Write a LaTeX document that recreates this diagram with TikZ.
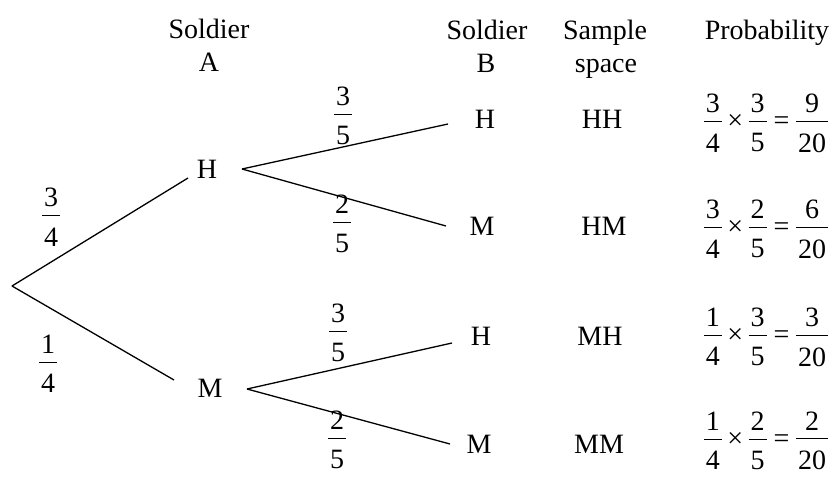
\documentclass[tikz,border=0pt]{standalone}
\usepackage{fontspec}
\setmainfont{Liberation Serif}
\newfontfamily\timesfont{Liberation Serif}
\newcommand\fr[2]{\vbox{\halign{\hfil\kern2pt##\kern2pt\hfil\cr #1\cr\noalign{\kern8pt\hrule height0.9pt\kern12pt}#2\cr}}}
\newcommand\prob[6]{$\vcenter{\fr{#1}{#2}}\mathbin{\mbox{×}}\vcenter{\fr{#3}{#4}}\mathrel{\mbox{=}}\vcenter{\fr{#5}{#6}}$}
\tikzset{
  txt/.style={inner sep=0pt, font=\timesfont\fontsize{28}{33}\selectfont},
  lbl/.style={txt, anchor=base},
  branch/.style={line width=1.3pt}
}
\begin{document}
\begin{tikzpicture}[x=1pt,y=-1pt]
\useasboundingbox (0,0) rectangle (836,477);
% headers
\node[lbl] (hdrA1) at (209,38) {Soldier};
\node[lbl] (hdrA2) at (209,71) {A};
\node[lbl] (hdrB1) at (487,39) {Soldier};
\node[lbl] (hdrB2) at (486,72) {B};
\node[lbl] (hdrS1) at (605,39) {Sample};
\node[lbl] (hdrS2) at (606,72) {space};
\node[lbl] (hdrP) at (767,39) {Probability};
% tree outcomes
\node[lbl] (hA) at (207,178) {H};
\node[lbl] (mA) at (210,397) {M};
\node[lbl] (hH) at (485,128) {H};
\node[lbl] (hM) at (482,235) {M};
\node[lbl] (mH) at (481,345) {H};
\node[lbl] (mM) at (479,453) {M};
% sample space
\node[lbl] (sHH) at (602,128) {HH};
\node[lbl] (sHM) at (604,235) {HM};
\node[lbl] (sMH) at (600,345) {MH};
\node[lbl] (sMM) at (599,453) {MM};
% branch points
\coordinate (root) at (12,286);
\coordinate (hAin) at (188,178);
\coordinate (hAout) at (242,169);
\coordinate (mAin) at (174,380);
\coordinate (mAout) at (247,389);
\coordinate (hHin) at (448,124);
\coordinate (hMin) at (446,226);
\coordinate (mHin) at (452,343);
\coordinate (mMin) at (450,444);
\draw[branch] (root) -- (hAin);
\draw[branch] (root) -- (mAin);
\draw[branch] (hAout) -- (hHin);
\draw[branch] (hAout) -- (hMin);
\draw[branch] (mAout) -- (mHin);
\draw[branch] (mAout) -- (mMin);
% branch probabilities
\node[txt] (pA1) at (51,217) {\fr{3}{4}};
\node[txt] (pA2) at (48,364) {\fr{1}{4}};
\node[txt] (pB1) at (343,116) {\fr{3}{5}};
\node[txt] (pB2) at (342,224) {\fr{2}{5}};
\node[txt] (pB3) at (338,333) {\fr{3}{5}};
\node[txt] (pB4) at (337,440) {\fr{2}{5}};
% probabilities
\node[txt] (r1) at (766,123) {\prob{3}{4}{3}{5}{9}{20}};
\node[txt] (r2) at (766,229) {\prob{3}{4}{2}{5}{6}{20}};
\node[txt] (r3) at (766,337) {\prob{1}{4}{3}{5}{3}{20}};
\node[txt] (r4) at (766,441) {\prob{1}{4}{2}{5}{2}{20}};
\end{tikzpicture}
\end{document}
